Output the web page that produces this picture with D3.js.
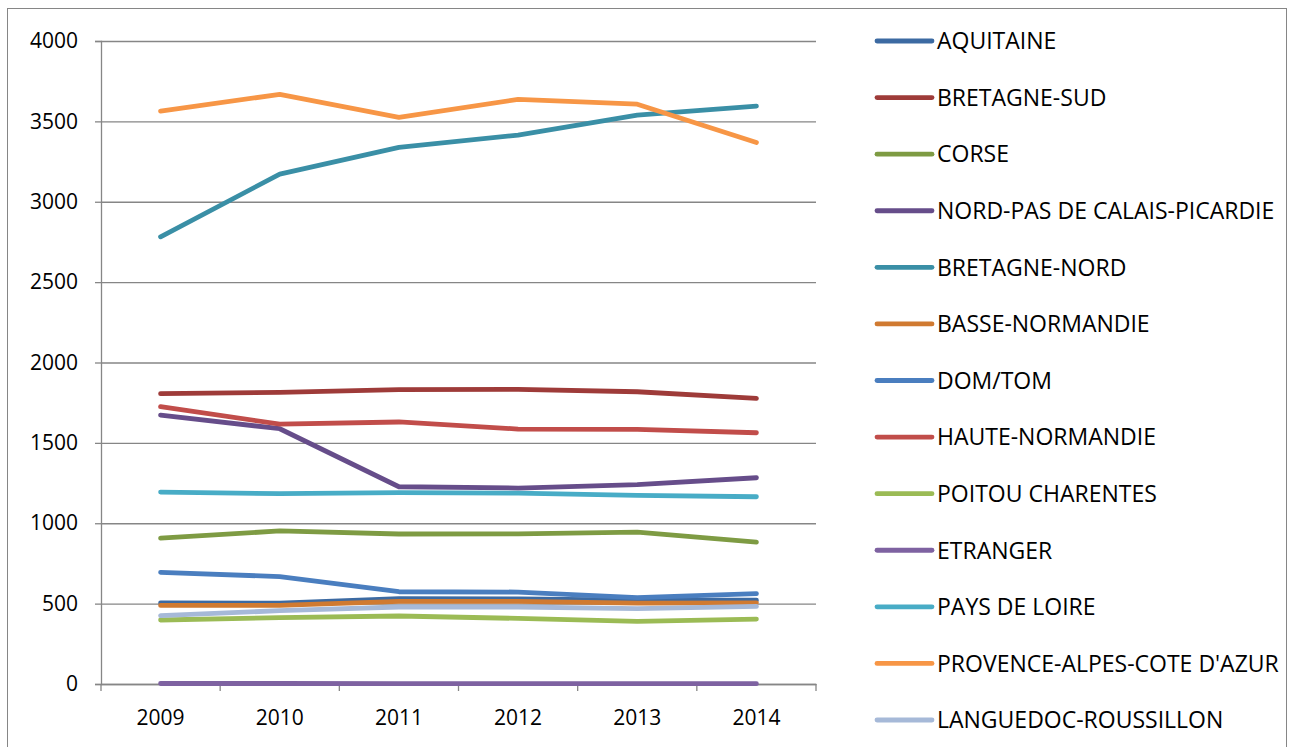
<!DOCTYPE html>
<html>
<head>
<meta charset="utf-8">
<script src="https://cdn.jsdelivr.net/npm/d3@7"></script>
<style>
  body { margin: 0; background: #fff; }
  svg { display: block; font-family: "Open Sans", sans-serif; }
</style>
</head>
<body>
<svg width="1290" height="747"></svg>
<script>
const years = ["2009", "2010", "2011", "2012", "2013", "2014"];
const yTicks = [0, 500, 1000, 1500, 2000, 2500, 3000, 3500, 4000];

const regions = ["AQUITAINE", "BRETAGNE-SUD", "CORSE", "NORD-PAS DE CALAIS-PICARDIE", "BRETAGNE-NORD",
  "BASSE-NORMANDIE", "DOM/TOM", "HAUTE-NORMANDIE", "POITOU CHARENTES", "ETRANGER", "PAYS DE LOIRE",
  "PROVENCE-ALPES-COTE D'AZUR", "LANGUEDOC-ROUSSILLON"];

const colors = ["#3C6AA2", "#9E3B39", "#7E9B43", "#664D8A", "#3A8FA6", "#D07A31",
  "#4A7EBF", "#C14D4A", "#9BBB55", "#7E62A1", "#48ACC6", "#F79646", "#A6B9D8"];

const aquitaine = [504, 503, 531, 529, 522, 521];
const bretagneSud = [1806, 1814, 1831, 1833, 1818, 1777];
const corse = [908, 952, 933, 934, 945, 883];
const nordPicardie = [1673, 1588, 1227, 1219, 1240, 1283];
const bretagneNord = [2782, 3172, 3338, 3415, 3539, 3595];
const basseNormandie = [489, 489, 514, 514, 503, 505];
const domTom = [695, 668, 574, 572, 537, 562];
const hauteNormandie = [1725, 1617, 1630, 1586, 1584, 1563];
const poitou = [398, 413, 423, 408, 390, 404];
const etranger = [3, 3, 2, 2, 2, 2];
const paysDeLoire = [1194, 1184, 1190, 1187, 1173, 1165];
const paca = [3564, 3668, 3525, 3637, 3607, 3369];
const languedoc = [425, 456, 479, 479, 469, 483];

const seriesValues = [aquitaine, bretagneSud, corse, nordPicardie, bretagneNord, basseNormandie,
  domTom, hauteNormandie, poitou, etranger, paysDeLoire, paca, languedoc];

const series = regions.map((name, i) => ({ name, color: colors[i], values: seriesValues[i] }));

const svg = d3.select("svg");
const grey = "#868686";
const font = "'Open Sans', sans-serif";

// outer frame
svg.append("rect")
  .attr("x", 7.5).attr("y", 8.5).attr("width", 1279).attr("height", 760)
  .attr("fill", "none").attr("stroke", grey).attr("stroke-width", 1);

const plotLeft = 101, plotRight = 816, plotTop = 41, plotBottom = 684;
const width = plotRight - plotLeft, height = plotBottom - plotTop;

const chart = svg.append("g").attr("transform", `translate(${plotLeft}, ${plotTop})`);

const xScale = d3.scaleBand().domain(years).range([0, width]);
const yScale = d3.scaleLinear().domain([0, 4000]).range([height, 0]);

// grid lines
chart.append("g")
  .call(d3.axisLeft(yScale).tickValues(yTicks).tickSize(-width).tickFormat(""))
  .call(g => g.select(".domain").remove())
  .selectAll("line").attr("stroke", grey).attr("stroke-width", 1.3);

// y axis
const yAxis = chart.append("g")
  .call(d3.axisLeft(yScale).tickValues(yTicks).tickSize(6).tickPadding(17).tickFormat(d3.format("d")));
yAxis.select(".domain").attr("stroke", grey).attr("stroke-width", 1.3);
yAxis.selectAll("line").attr("stroke", grey).attr("stroke-width", 1.3);
yAxis.selectAll("text").attr("font-size", 21).attr("fill", "#000").attr("font-family", font);

// x axis
const xAxis = chart.append("g")
  .attr("transform", `translate(0, ${height})`)
  .call(d3.axisBottom(xScale).tickSize(0).tickPadding(26));
xAxis.select(".domain").attr("stroke", grey).attr("stroke-width", 1.3);
xAxis.selectAll("text").attr("font-size", 21).attr("fill", "#000").attr("font-family", font);
xAxis.selectAll(".bound")
  .data(d3.range(years.length + 1))
  .enter().append("line")
  .attr("x1", i => i * xScale.step()).attr("x2", i => i * xScale.step())
  .attr("y1", 0).attr("y2", 7)
  .attr("stroke", grey).attr("stroke-width", 1.3);

// lines
const line = d3.line()
  .x((d, i) => xScale(years[i]) + xScale.bandwidth() / 2)
  .y(d => yScale(d));

chart.selectAll(".series")
  .data(series)
  .enter().append("path")
  .attr("class", "series")
  .attr("d", d => line(d.values))
  .attr("fill", "none")
  .attr("stroke", d => d.color)
  .attr("stroke-width", 4.8)
  .attr("stroke-linecap", "round")
  .attr("stroke-linejoin", "round");

// legend
const legendY = d3.scalePoint().domain(regions).range([41, 720]);
const legend = svg.append("g");
const items = legend.selectAll("g")
  .data(series)
  .enter().append("g")
  .attr("transform", d => `translate(877, ${legendY(d.name)})`);
items.append("line")
  .attr("x1", 0).attr("x2", 55).attr("y1", 0).attr("y2", 0)
  .attr("stroke", d => d.color).attr("stroke-width", 4.8).attr("stroke-linecap", "round");
items.append("text")
  .attr("x", 60).attr("y", 0).attr("dy", "0.36em")
  .attr("font-size", 23).attr("fill", "#000")
  .attr("font-family", font)
  .text(d => d.name);
</script>
</body>
</html>
